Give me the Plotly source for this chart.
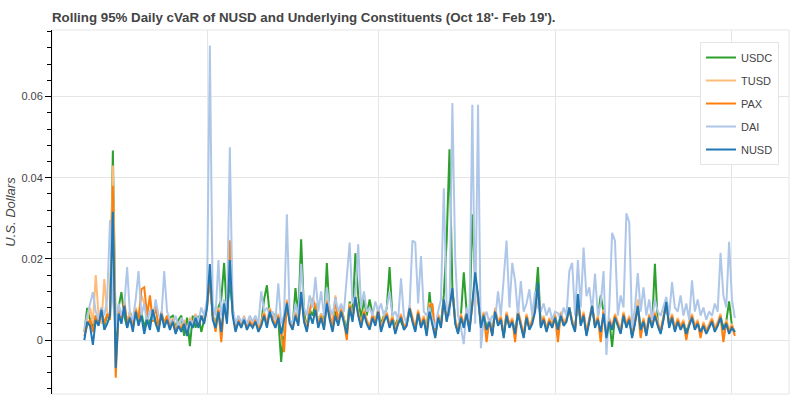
import pandas as pd
import plotly.graph_objects as go

TITLE = "Rolling 95% Daily cVaR of NUSD and Underlying Constituents (Oct 18'- Feb 19')."
Y_LABEL = "U.S. Dollars"
START = "2018-10-10 12:00"
FREQ = "12h"
MONTH_TICKS = ["2018-11-01", "2018-12-01", "2019-01-01", "2019-02-01"]
Y_TICKS = [0, 0.02, 0.04, 0.06]

USDC = [
    0.0020, 0.0079, 0.0050, 0.0030, 0.0060, 0.0045, 0.0070, 0.0035, 0.0060, 0.0050,
    0.0467, 0.0010, 0.0080, 0.0118, 0.0060, 0.0030, 0.0070, 0.0040, 0.0065, 0.0045,
    0.0070, 0.0030, 0.0060, 0.0040, 0.0075, 0.0045, 0.0030, 0.0060, 0.0040, 0.0055,
    0.0055, 0.0060, 0.0030, 0.0050, 0.0060, 0.0010, 0.0055, -0.0015, 0.0060, 0.0030,
    0.0060, 0.0020, 0.0050, 0.0090, 0.0150, 0.0060, 0.0040, 0.0080, 0.0100, 0.0190,
    0.0060, 0.0150, 0.0070, 0.0030, 0.0050, 0.0035, 0.0055, 0.0030, 0.0045, 0.0035,
    0.0050, 0.0030, 0.0040, 0.0100, 0.0135, 0.0060, 0.0055, 0.0065, 0.0050, -0.0054,
    0.0040, 0.0080, 0.0050, 0.0030, 0.0128, 0.0060, 0.0248, 0.0070, 0.0030, 0.0075,
    0.0060, 0.0090, 0.0040, 0.0065, 0.0035, 0.0190, 0.0060, 0.0030, 0.0070, 0.0045,
    0.0080, 0.0050, 0.0025, 0.0095, 0.0060, 0.0214, 0.0110, 0.0050, 0.0100, 0.0060,
    0.0100, 0.0065, 0.0045, 0.0070, 0.0040, 0.0060, 0.0078, 0.0180, 0.0055, 0.0035,
    0.0055, 0.0045, 0.0030, 0.0040, 0.0070, 0.0050, 0.0025, 0.0065, 0.0035, 0.0055,
    0.0020, 0.0118, 0.0045, 0.0010, 0.0060, 0.0040, 0.0110, 0.0245, 0.0470, 0.0130,
    0.0050, 0.0020, 0.0060, 0.0167, 0.0070, 0.0040, 0.0310, 0.0150, 0.0110, 0.0040,
    0.0065, 0.0030, 0.0050, 0.0015, 0.0075, 0.0040, 0.0055, 0.0010, 0.0065, 0.0035,
    0.0050, 0.0020, 0.0070, 0.0040, 0.0010, 0.0060, 0.0030, 0.0050, 0.0090, 0.0180,
    0.0035, 0.0055, 0.0025, 0.0050, 0.0035, 0.0060, 0.0030, 0.0065, 0.0040, 0.0050,
    0.0080, 0.0045, 0.0025, 0.0105, 0.0040, 0.0065, 0.0015, 0.0050, 0.0085, 0.0035,
    0.0055, 0.0110, 0.0070, 0.0010, 0.0050, -0.0017, 0.0060, 0.0040, 0.0020, 0.0065,
    0.0035, 0.0055, 0.0010, 0.0045, 0.0085, 0.0030, 0.0050, 0.0015, 0.0060, 0.0035,
    0.0188, 0.0040, 0.0020, 0.0055, 0.0095, 0.0035, 0.0060, 0.0025, 0.0050, 0.0030,
    0.0045, 0.0020, 0.0040, 0.0060, 0.0030, 0.0045, 0.0015, 0.0040, 0.0025, 0.0035,
    0.0050, 0.0025, 0.0040, 0.0060, 0.0030, 0.0045, 0.0095, 0.0035, 0.0020,
]

TUSD = [
    0.0020, 0.0050, 0.0080, 0.0040, 0.0160, 0.0060, 0.0040, 0.0150, 0.0070, 0.0055,
    0.0430, 0.0020, 0.0070, 0.0050, 0.0090, 0.0045, 0.0070, 0.0035, 0.0080, 0.0055,
    0.0110, 0.0090, 0.0070, 0.0100, 0.0050, 0.0080, 0.0035, 0.0065, 0.0045, 0.0060,
    0.0035, 0.0055, 0.0025, 0.0045, 0.0030, 0.0050, 0.0020, 0.0055, 0.0040, 0.0065,
    0.0040, 0.0060, 0.0050, 0.0085, 0.0160, 0.0065, 0.0030, 0.0080, 0.0010, 0.0090,
    0.0055, 0.0230, 0.0075, 0.0030, 0.0055, 0.0040, 0.0060, 0.0035, 0.0050, 0.0040,
    0.0055, 0.0030, 0.0045, 0.0070, 0.0040, 0.0080, 0.0055, 0.0040, 0.0065, 0.0020,
    0.0010, 0.0100, 0.0050, 0.0035, 0.0070, 0.0045, 0.0120, 0.0055, 0.0030, 0.0075,
    0.0105, 0.0085, 0.0040, 0.0065, 0.0035, 0.0100, 0.0060, 0.0030, 0.0110, 0.0045,
    0.0080, 0.0050, 0.0010, 0.0090, 0.0055, 0.0110, 0.0070, 0.0040, 0.0075, 0.0050,
    0.0035, 0.0065, 0.0045, 0.0080, 0.0030, 0.0055, 0.0070, 0.0040, 0.0060, 0.0025,
    0.0050, 0.0065, 0.0035, 0.0045, 0.0085, 0.0055, 0.0030, 0.0075, 0.0040, 0.0060,
    0.0020, 0.0090, 0.0085, 0.0015, 0.0065, 0.0040, 0.0100, 0.0055, 0.0090, 0.0125,
    0.0050, 0.0025, 0.0065, 0.0040, 0.0075, 0.0030, 0.0090, 0.0155, 0.0105, 0.0040,
    0.0070, 0.0005, 0.0055, 0.0020, 0.0080, 0.0045, 0.0060, 0.0015, 0.0070, 0.0040,
    0.0055, 0.0005, 0.0075, 0.0045, 0.0015, 0.0065, 0.0035, 0.0050, 0.0080, 0.0135,
    0.0040, 0.0060, 0.0030, 0.0055, 0.0040, 0.0065, 0.0005, 0.0070, 0.0045, 0.0055,
    0.0080, 0.0050, 0.0030, 0.0105, 0.0045, 0.0070, 0.0020, 0.0055, 0.0085, 0.0040,
    0.0060, 0.0005, 0.0075, 0.0015, 0.0055, 0.0035, 0.0065, 0.0045, 0.0025, 0.0070,
    0.0040, 0.0060, 0.0015, 0.0050, 0.0100, 0.0010, 0.0055, 0.0020, 0.0065, 0.0040,
    0.0070, 0.0045, 0.0025, 0.0060, 0.0095, 0.0040, 0.0065, 0.0030, 0.0055, 0.0035,
    0.0050, 0.0005, 0.0045, 0.0065, 0.0035, 0.0050, 0.0010, 0.0045, 0.0025, 0.0040,
    0.0055, 0.0030, 0.0045, 0.0065, 0.0000, 0.0050, 0.0025, 0.0040, 0.0015,
]

PAX = [
    0.0010, 0.0035, 0.0050, 0.0020, 0.0060, 0.0045, 0.0080, 0.0040, 0.0065, 0.0050,
    0.0380, -0.0093, 0.0075, 0.0050, 0.0095, 0.0040, 0.0060, 0.0030, 0.0075, 0.0050,
    0.0125, 0.0130, 0.0060, 0.0110, 0.0045, 0.0085, 0.0030, 0.0070, 0.0040, 0.0060,
    0.0030, 0.0050, 0.0020, 0.0040, 0.0025, 0.0045, 0.0015, 0.0050, 0.0035, 0.0060,
    0.0035, 0.0055, 0.0045, 0.0080, 0.0150, 0.0060, 0.0020, 0.0075, -0.0005, 0.0085,
    0.0050, 0.0246, 0.0070, 0.0025, 0.0050, 0.0035, 0.0055, 0.0030, 0.0045, 0.0035,
    0.0050, 0.0025, 0.0040, 0.0065, 0.0035, 0.0075, 0.0050, 0.0035, 0.0060, 0.0010,
    -0.0030, 0.0095, 0.0045, 0.0030, 0.0065, 0.0040, 0.0110, 0.0050, 0.0025, 0.0070,
    0.0100, 0.0080, 0.0035, 0.0060, 0.0030, 0.0095, 0.0055, 0.0025, 0.0105, 0.0040,
    0.0075, 0.0045, 0.0000, 0.0085, 0.0050, 0.0100, 0.0065, 0.0035, 0.0070, 0.0045,
    0.0030, 0.0060, 0.0040, 0.0075, 0.0025, 0.0050, 0.0065, 0.0035, 0.0055, 0.0020,
    0.0045, 0.0060, 0.0030, 0.0040, 0.0080, 0.0050, 0.0025, 0.0070, 0.0035, 0.0055,
    0.0015, 0.0085, 0.0090, 0.0010, 0.0060, 0.0035, 0.0095, 0.0050, 0.0085, 0.0120,
    0.0045, 0.0020, 0.0060, 0.0035, 0.0070, 0.0025, 0.0085, 0.0150, 0.0100, 0.0035,
    0.0065, -0.0005, 0.0050, 0.0015, 0.0075, 0.0040, 0.0055, 0.0010, 0.0065, 0.0035,
    0.0050, -0.0005, 0.0070, 0.0040, 0.0010, 0.0060, 0.0030, 0.0045, 0.0075, 0.0130,
    0.0035, 0.0055, 0.0025, 0.0050, 0.0035, 0.0060, -0.0005, 0.0065, 0.0040, 0.0050,
    0.0075, 0.0045, 0.0025, 0.0100, 0.0040, 0.0065, 0.0015, 0.0050, 0.0080, 0.0035,
    0.0055, -0.0005, 0.0070, 0.0010, 0.0050, 0.0030, 0.0060, 0.0040, 0.0020, 0.0065,
    0.0035, 0.0055, 0.0010, 0.0045, 0.0080, 0.0005, 0.0050, 0.0015, 0.0060, 0.0035,
    0.0065, 0.0040, 0.0020, 0.0055, 0.0090, 0.0035, 0.0060, 0.0025, 0.0050, 0.0030,
    0.0045, 0.0000, 0.0040, 0.0060, 0.0030, 0.0045, 0.0005, 0.0040, 0.0020, 0.0035,
    0.0050, 0.0025, 0.0040, 0.0060, -0.0005, 0.0045, 0.0020, 0.0035, 0.0010,
]

DAI = [
    0.0030, 0.0060, 0.0090, 0.0118, 0.0070, 0.0050, 0.0080, 0.0060, 0.0100, 0.0295,
    0.0100, 0.0030, 0.0090, 0.0060, 0.0085, 0.0180, 0.0060, 0.0050, 0.0100, 0.0170,
    0.0060, 0.0090, 0.0040, 0.0075, 0.0050, 0.0100, 0.0060, 0.0055, 0.0170, 0.0070,
    0.0050, 0.0040, 0.0060, 0.0030, 0.0055, 0.0040, 0.0025, 0.0050, 0.0035, 0.0060,
    0.0045, 0.0080, 0.0060, 0.0100, 0.0726, 0.0090, 0.0060, 0.0197, 0.0060, 0.0100,
    0.0070, 0.0475, 0.0080, 0.0040, 0.0060, 0.0045, 0.0055, 0.0040, 0.0060, 0.0045,
    0.0060, 0.0040, 0.0120, 0.0070, 0.0080, 0.0060, 0.0070, 0.0050, 0.0140, 0.0040,
    0.0060, 0.0310, 0.0050, 0.0040, 0.0090, 0.0060, 0.0188, 0.0080, 0.0060, 0.0110,
    0.0080, 0.0155, 0.0070, 0.0120, 0.0060, 0.0130, 0.0080, 0.0060, 0.0105, 0.0070,
    0.0090, 0.0070, 0.0160, 0.0240, 0.0090, 0.0110, 0.0236, 0.0080, 0.0120, 0.0070,
    0.0080, 0.0060, 0.0095, 0.0070, 0.0090, 0.0060, 0.0080, 0.0120, 0.0060, 0.0070,
    0.0050, 0.0152, 0.0060, 0.0040, 0.0080, 0.0245, 0.0240, 0.0090, 0.0207, 0.0070,
    0.0060, 0.0080, 0.0050, 0.0030, 0.0070, 0.0100, 0.0374, 0.0080, 0.0060, 0.0584,
    0.0200, 0.0060, 0.0030, -0.0010, 0.0080, 0.0050, 0.0580, 0.0040, 0.0580, -0.0020,
    0.0050, 0.0070, 0.0040, 0.0060, 0.0050, 0.0120, 0.0060, 0.0160, 0.0245, 0.0080,
    0.0190, 0.0145, 0.0060, 0.0145, 0.0070, 0.0090, 0.0125, 0.0060, 0.0120, 0.0080,
    0.0070, 0.0090, 0.0060, 0.0080, 0.0050, 0.0070, 0.0066, 0.0050, 0.0080, 0.0060,
    0.0170, 0.0190, 0.0060, 0.0197, 0.0080, 0.0228, 0.0108, 0.0130, 0.0070, 0.0164,
    0.0060, 0.0090, 0.0170, -0.0037, 0.0080, 0.0264, 0.0245, 0.0060, 0.0110, 0.0080,
    0.0312, 0.0290, 0.0030, 0.0080, 0.0165, 0.0070, 0.0130, 0.0060, 0.0100, 0.0050,
    0.0100, 0.0070, 0.0060, 0.0083, 0.0106, 0.0060, 0.0143, 0.0080, 0.0070, 0.0110,
    0.0060, 0.0090, 0.0050, 0.0147, 0.0070, 0.0100, 0.0060, 0.0080, 0.0050, 0.0070,
    0.0060, 0.0090, 0.0070, 0.0215, 0.0110, 0.0080, 0.0242, 0.0100, 0.0054,
]

NUSD = [
    0.0000, 0.0045, 0.0035, -0.0012, 0.0050, 0.0035, 0.0075, 0.0025, 0.0040, 0.0060,
    0.0316, -0.0069, 0.0065, 0.0040, 0.0085, 0.0030, 0.0055, 0.0020, 0.0070, 0.0035,
    0.0060, 0.0015, 0.0050, 0.0025, 0.0075, 0.0040, 0.0020, 0.0065, 0.0030, 0.0050,
    0.0025, 0.0045, 0.0015, 0.0035, 0.0020, 0.0040, 0.0010, 0.0045, 0.0030, 0.0055,
    0.0030, 0.0060, 0.0040, 0.0080, 0.0187, 0.0050, 0.0030, 0.0070, 0.0020, 0.0090,
    0.0040, 0.0197, 0.0060, 0.0020, 0.0045, 0.0030, 0.0050, 0.0025, 0.0040, 0.0030,
    0.0045, 0.0020, 0.0035, 0.0060, 0.0030, 0.0070, 0.0045, 0.0030, 0.0055, 0.0015,
    0.0050, 0.0090, 0.0040, 0.0025, 0.0060, 0.0035, 0.0118, 0.0045, 0.0020, 0.0065,
    0.0040, 0.0075, 0.0030, 0.0055, 0.0025, 0.0090, 0.0050, 0.0020, 0.0060, 0.0035,
    0.0070, 0.0040, 0.0015, 0.0080, 0.0045, 0.0106, 0.0060, 0.0030, 0.0065, 0.0040,
    0.0025, 0.0055, 0.0035, 0.0070, 0.0020, 0.0045, 0.0060, 0.0030, 0.0050, 0.0015,
    0.0040, 0.0055, 0.0025, 0.0035, 0.0078, 0.0045, 0.0020, 0.0065, 0.0030, 0.0050,
    0.0010, 0.0070, 0.0035, 0.0005, 0.0055, 0.0030, 0.0100, 0.0045, 0.0080, 0.0128,
    0.0040, 0.0015, 0.0055, 0.0030, 0.0065, 0.0020, 0.0090, 0.0167, 0.0110, 0.0030,
    0.0060, 0.0025, 0.0045, 0.0010, 0.0070, 0.0035, 0.0050, 0.0005, 0.0060, 0.0030,
    0.0045, 0.0015, 0.0065, 0.0035, 0.0005, 0.0055, 0.0025, 0.0040, 0.0070, 0.0142,
    0.0030, 0.0050, 0.0020, 0.0045, 0.0030, 0.0055, 0.0025, 0.0060, 0.0035, 0.0045,
    0.0080, 0.0040, 0.0020, 0.0113, 0.0035, 0.0060, 0.0010, 0.0045, 0.0084, 0.0030,
    0.0050, 0.0020, 0.0065, 0.0005, 0.0045, 0.0025, 0.0055, 0.0035, 0.0015, 0.0060,
    0.0030, 0.0050, 0.0005, 0.0040, 0.0084, 0.0025, 0.0045, 0.0010, 0.0055, 0.0030,
    0.0060, 0.0035, 0.0015, 0.0050, 0.0094, 0.0030, 0.0055, 0.0020, 0.0045, 0.0025,
    0.0040, 0.0015, 0.0035, 0.0055, 0.0025, 0.0040, 0.0020, 0.0035, 0.0015, 0.0030,
    0.0045, 0.0020, 0.0035, 0.0055, 0.0025, 0.0040, 0.0015, 0.0030, 0.0020,
]

SERIES = [
    ("USDC", USDC, "#2ca02c"),
    ("TUSD", TUSD, "#ffbb78"),
    ("PAX", PAX, "#ff7f0e"),
    ("DAI", DAI, "#aec7e8"),
    ("NUSD", NUSD, "#1f77b4"),
]

dates = pd.date_range(START, periods=len(NUSD), freq=FREQ)

FONT = "Liberation Sans, Arial, Helvetica, sans-serif"
TEXT = "#444444"
GRID = "#e5e5e5"

fig = go.Figure()
for i, (name, vals, color) in enumerate(SERIES):
    fig.add_trace(go.Scatter(
        x=dates, y=vals, mode="lines", name=name,
        line=dict(color=color, width=2), legendgroup=f"g{i}",
    ))

fig.update_layout(
    width=800, height=398,
    margin=dict(l=52, r=11, t=30, b=4),
    paper_bgcolor="white", plot_bgcolor="white",
    font=dict(family=FONT, color=TEXT, size=11),
    title=dict(
        text=f"<b>{TITLE}</b>", x=52 / 800, xanchor="left", xref="container",
        y=1 - 17 / 398, yanchor="middle", yref="container",
        font=dict(family=FONT, size=13.3, color=TEXT),
    ),
    showlegend=True,
    legend=dict(
        x=0.9864, xanchor="right", y=0.967, yanchor="top",
        bgcolor="white", bordercolor=GRID, borderwidth=1,
        font=dict(family=FONT, size=11, color=TEXT),
        tracegroupgap=4, itemwidth=30,
    ),
    shapes=[dict(type="rect", xref="paper", yref="paper", x0=0, x1=1, y0=0, y1=1,
                 line=dict(color=GRID, width=1), layer="below")],
)

fig.update_xaxes(
    type="date", range=["2018-10-04 20:00", "2019-02-11 00:00"],
    tickvals=MONTH_TICKS, showticklabels=False, ticks="",
    showgrid=True, gridcolor=GRID, gridwidth=1, showline=False, zeroline=False,
    automargin=False,
)

fig.update_yaxes(
    range=[-0.0133, 0.0764], tickvals=Y_TICKS, ticktext=["0", "0.02", "0.04", "0.06"],
    showgrid=True, gridcolor=GRID, gridwidth=1, zeroline=False,
    showline=True, linecolor="black", linewidth=1,
    ticks="outside", ticklen=6, tickcolor="black", tickwidth=1,
    minor=dict(ticks="outside", ticklen=4, tickcolor="black", dtick=0.004, tick0=0, showgrid=False),
    tickfont=dict(family=FONT, size=11, color=TEXT),
    title=dict(text=Y_LABEL, font=dict(family=FONT, size=13, color=TEXT, style="italic"), standoff=2),
    automargin=False,
)

fig.write_html(
    "out.html",
    config={"displayModeBar": False},
    post_script="document.body.style.margin='0';",
)
